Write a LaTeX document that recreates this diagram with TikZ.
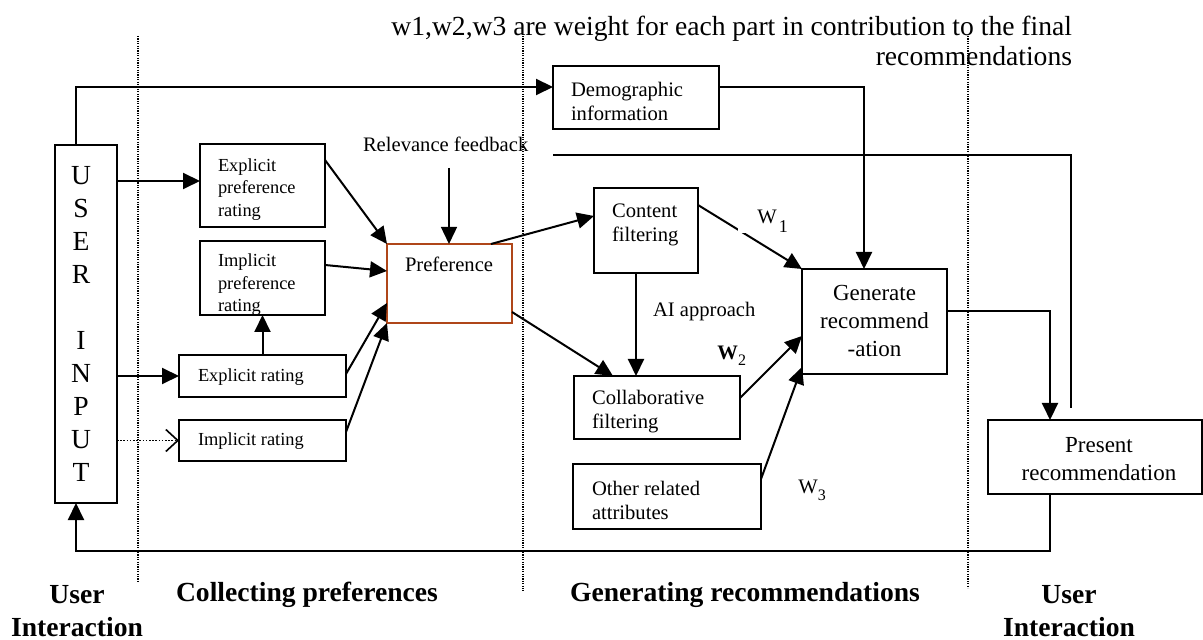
\documentclass[tikz,border=0pt]{standalone}
\usepackage{fontspec}
\setmainfont{Liberation Serif}
\usetikzlibrary{arrows.meta,calc}
\definecolor{prefbrown}{RGB}{175,70,25}
\begin{document}
\begin{tikzpicture}[x=0.5pt,y=-0.5pt,
  box/.style={draw, line width=0.9pt, inner sep=0pt, outer sep=0pt, anchor=north west},
  txt/.style={inner sep=0pt, outer sep=0pt, align=left},
  arr/.style={line width=1pt, -{Triangle[length=8.5pt,width=8pt]}},
  thinarr/.style={line width=0.7pt, -{Triangle[length=8.5pt,width=8pt]}},
  dotarr/.style={line width=0.8pt, dash pattern=on 0.8pt off 0.8pt, -{Straight Barb[length=6pt,width=11pt,line width=0.8pt]}},
  ln/.style={line width=1pt},
  sepline/.style={line width=0.6pt, dash pattern=on 0.6pt off 0.6pt},
  fs8/.style={font=\fontsize{9.2}{11.2}\selectfont},
  fs9/.style={font=\fontsize{10.3}{12}\selectfont},
  fs10/.style={font=\fontsize{11.5}{14}\selectfont},
  fs12/.style={font=\fontsize{13.8}{15}\selectfont},
  fsb/.style={font=\fontsize{13.8}{16.5}\selectfont\bfseries},
]
\useasboundingbox (0,0) rectangle (1203,640);

% separators
\coordinate (s1t) at (138,36);  \coordinate (s1b) at (138,581);
\coordinate (s2t) at (523,36);  \coordinate (s2b) at (523,591);
\coordinate (s3t) at (968,36);  \coordinate (s3b) at (968,588);
\draw[sepline] (s1t) -- (s1b);
\draw[sepline] (s2t) -- (s2b);
\draw[sepline] (s3t) -- (s3b);

% top note
\node[txt, fs12, align=right, anchor=east] (note) at (1072,41)
  {w1,w2,w3 are weight for each part in contribution to the final\\recommendations};

% boxes
\node[box, minimum width=31pt, minimum height=179pt] (user) at (55,145) {};
\node[inner sep=0pt, align=center, anchor=north, font=\fontsize{13.8}{16.5}\selectfont] (usertxt) at (81,166)
  {U\\S\\E\\R\\[16.5pt]I\\N\\P\\U\\T};

\node[box, minimum width=83pt, minimum height=31.5pt] (demo) at (553,66) {};
\node[txt, fs9, anchor=west] (demotxt) at (571,101) {Demographic\\information};

\node[box, minimum width=62.5pt, minimum height=41.5pt] (epr) at (200,144) {};
\node[txt, fs8, anchor=west] (eprtxt) at (218,189.5) {Explicit\\preference\\rating};

\node[box, minimum width=62.5pt, minimum height=37pt] (ipr) at (200,241) {};
\node[txt, fs8, anchor=west] (iprtxt) at (218,285) {Implicit\\preference\\rating};

\node[box, minimum width=83.5pt, minimum height=21pt] (er) at (179,355) {};
\node[txt, fs8, anchor=base west] (ertxt) at (198,382) {Explicit rating};

\node[box, minimum width=83.5pt, minimum height=20.5pt] (ir) at (179,420) {};
\node[txt, fs8, anchor=base west] (irtxt) at (198,445) {Implicit rating};

\node[box, draw=prefbrown, line width=0.8pt, minimum width=62.5pt, minimum height=39.5pt] (pref) at (387,244) {};
\node[txt, fs9, anchor=base west] (preftxt) at (405,272) {Preference};

\node[txt, fs9, anchor=base west] (rel) at (363,152) {Relevance feedback};

\node[box, minimum width=52pt, minimum height=42.5pt] (cf) at (594,188) {};
\node[txt, fs9, anchor=west] (cftxt) at (612,224.5) {Content\\filtering};

\node[txt, fs9, anchor=base west] (ai) at (653,317) {AI approach};

\node[box, minimum width=83pt, minimum height=31.5pt] (colf) at (574,376) {};
\node[txt, fs9, anchor=west] (colftxt) at (592,411.5) {Collaborative\\filtering};

\node[box, minimum width=94pt, minimum height=32.5pt] (other) at (573,464) {};
\node[txt, fs9, anchor=west] (othertxt) at (592,500.5) {Other related\\attributes};

\node[box, minimum width=72.5pt, minimum height=52.5pt] (gen) at (802,269) {};
\node[txt, fs10, align=center] (gentxt) at (874.5,321) {Generate\\recommend\\-ation};

\node[box, minimum width=107pt, minimum height=37pt] (pres) at (988,420) {};
\node[txt, fs10, align=center] (prestxt) at (1099,459) {Present\\recommendation};

% helper coordinates
\coordinate (ux) at (76,0);
\coordinate (ytop) at (0,87);
\coordinate (gx) at (864,0);
\coordinate (rl1) at (1071,408);
\coordinate (rl2) at (553,155);
\coordinate (rfs) at (449,168);
\coordinate (y181) at (0,181);
\coordinate (y160) at (0,160);
\coordinate (y265) at (0,265);
\coordinate (y271) at (0,271);
\coordinate (y373) at (0,374);
\coordinate (y298) at (0,303);
\coordinate (y430) at (0,432);
\coordinate (x491) at (491,0);
\coordinate (y216) at (0,216);
\coordinate (y312) at (0,312);
\coordinate (x613) at (613,0);
\coordinate (x636) at (636,0);
\coordinate (y205) at (0,205);
\coordinate (y400) at (0,398);
\coordinate (y337) at (0,336);
\coordinate (y470) at (0,479);
\coordinate (y362) at (0,367);
\coordinate (y311) at (0,311);
\coordinate (x1051) at (1050,0);
\coordinate (x1049) at (1050,0);
\coordinate (y573) at (0,551);

% connectors
\draw[arr] (user.north -| ux) |- (demo.west |- ytop);
\draw[arr] (demo.east |- ytop) -| (gen.north -| gx);
\draw[ln] (rl1) |- (rl2);
\draw[thinarr] (rfs) -- (pref.north -| rfs);
\draw[arr] (user.east |- y181) -- (epr.west |- y181);
\draw[arr] (user.east |- er.west) -- (er.west);
\draw[dotarr] (user.east |- ir.west) -- (ir.west);
\draw[arr] (er.north) -- (ipr.south);
\draw[arr] (epr.east |- y160) -- (pref.north west);
\draw[arr] (ipr.east |- y265) -- (pref.west |- y271);
\draw[arr] (er.east |- y373) -- (pref.west |- y298);
\draw[arr] (ir.east |- y430) -- (pref.south west);
\draw[arr] (pref.north -| x491) -- (cf.west |- y216);
\draw[arr] (pref.east |- y312) -- (colf.north -| x613);
\draw[arr] (cf.south -| x636) -- (colf.north -| x636);
\draw[arr] (cf.east |- y205) -- (gen.north west);
\draw[arr] (colf.east |- y400) -- (gen.west |- y337);
\draw[arr] (other.east |- y470) -- (gen.west |- y362);
\draw[arr] (gen.east |- y311) -| (pres.north -| x1051);
\draw[arr] (pres.south -| x1049) |- (ux |- y573) -- (user.south -| ux);

% weights
\node[fs9, fill=white, inner xsep=9.5pt, inner ysep=0pt, anchor=base west] (w1) at (738,224)
  {W\hspace{1pt}\raisebox{-4.5pt}{\fontsize{9}{9}\selectfont 1}};
\node[fs9, inner sep=0pt, anchor=base west] (w2) at (717,360)
  {\textbf{W}\raisebox{-3pt}{\fontsize{8}{8}\selectfont 2}};
\node[fs9, inner sep=0pt, anchor=base west] (w3) at (798,493)
  {W\raisebox{-3.5pt}{\fontsize{8}{8}\selectfont 3}};

% section labels
\node[fsb, align=center, inner sep=0pt] (lab1) at (77,611) {User\\Interaction};
\node[fsb, inner sep=0pt, anchor=base] (lab2) at (307,601) {Collecting preferences};
\node[fsb, inner sep=0pt, anchor=base] (lab3) at (745,601) {Generating recommendations};
\node[fsb, align=center, inner sep=0pt] (lab4) at (1069,611) {User\\Interaction};
\end{tikzpicture}
\end{document}
